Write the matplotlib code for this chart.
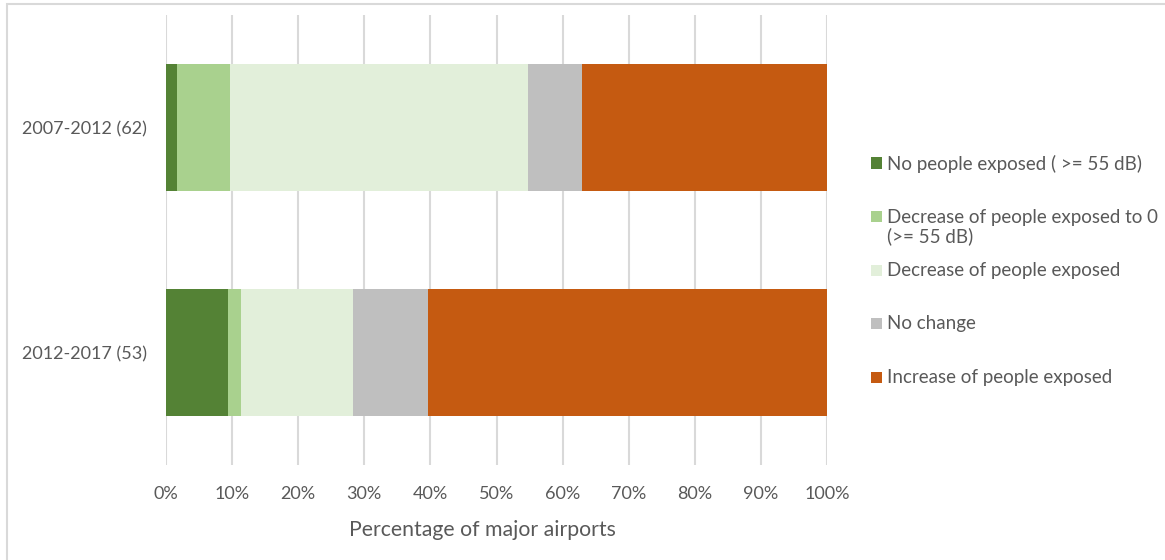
import matplotlib
matplotlib.use("Agg")
import matplotlib.pyplot as plt
from matplotlib.patches import Rectangle
import numpy as np

plt.rcParams['font.family'] = ['Lato', 'DejaVu Sans']

categories = ["2012-2017 (53)", "2007-2012 (62)"]
series_names = [
    "No people exposed ( >= 55 dB)",
    "Decrease of people exposed to 0\n(>= 55 dB)",
    "Decrease of people exposed",
    "No change",
    "Increase of people exposed",
]
colors = ["#548235", "#A9D18E", "#E2EFDA", "#BFBFBF", "#C55A11"]
# shares (%) per series, order matches categories
no_people = [9.43, 1.61]
decrease_to_zero = [1.89, 8.06]
decrease = [16.98, 45.16]
no_change = [11.32, 8.06]
increase = [60.38, 37.10]
series_values = [no_people, decrease_to_zero, decrease, no_change, increase]
xticks = [0, 10, 20, 30, 40, 50, 60, 70, 80, 90, 100]

W, H = 1165, 560
fig = plt.figure(figsize=(W / 100, H / 100), dpi=100)
ax = fig.add_axes([166 / W, (H - 465) / H, 661 / W, 450 / H])

y = np.arange(len(categories))
left = np.zeros(len(categories))
for name, vals, c in zip(series_names, series_values, colors):
    ax.barh(y, vals, left=left, height=0.564, color=c, label=name, zorder=3)
    left += np.array(vals)

ax.set_xlim(0, 100)
ax.set_ylim(-0.5, 1.5)
ax.set_xticks(xticks)
ax.set_xticklabels([f"{t}%" for t in xticks])
ax.set_yticks(y)
ax.set_yticklabels(categories)
ax.grid(axis='x', color='#D9D9D9', linewidth=1.5, zorder=0)
for s in ax.spines.values():
    s.set_visible(False)
ax.tick_params(axis='both', length=0, labelsize=13.0, labelcolor='#595959')
ax.tick_params(axis='x', pad=15)
ax.tick_params(axis='y', pad=14)
ax.set_xlabel("Percentage of major airports", fontsize=15.3, color='#595959')
ax.xaxis.set_label_coords((482 - 166) / 661, -(530 - 465) / 450)
ax.xaxis.label.set_va('center')

# legend (Excel-style: entries evenly spaced by their first line)
sq = 11
leg_x, leg_y0, leg_dy = 871, 163, 53.5
for i, (name, c) in enumerate(zip(series_names, colors)):
    yc = leg_y0 + i * leg_dy
    fig.patches.append(Rectangle((leg_x / W, (H - yc - sq / 2) / H), sq / W, sq / H,
                                 transform=fig.transFigure, facecolor=c,
                                 edgecolor='none'))
    fig.text((leg_x + 16) / W, (H - yc + 8) / H, name, fontsize=13.5,
             color='#595959', va='top', ha='left', linespacing=1.12)

fig.patches.append(Rectangle((7 / W, -0.05), 1.2, (H - 4) / H + 0.05,
                             transform=fig.transFigure, fill=False,
                             edgecolor='#D9D9D9', linewidth=1.5, clip_on=False))

fig.savefig("out.png", dpi=100)
